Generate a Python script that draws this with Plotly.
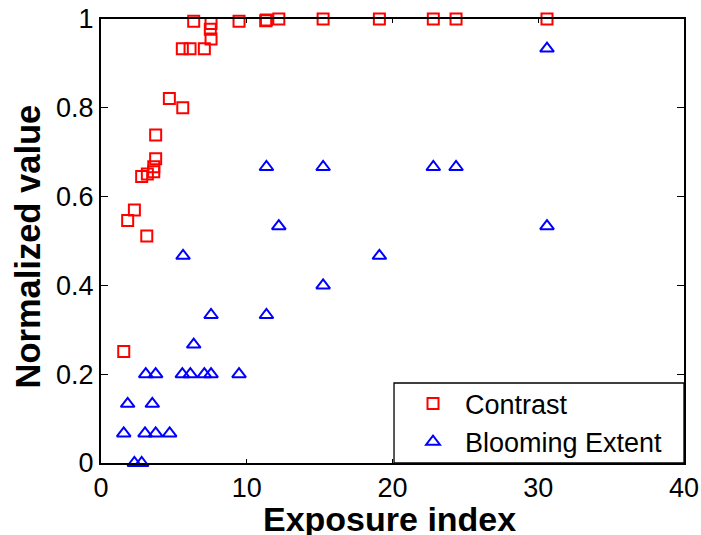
import plotly.graph_objects as go

# Contrast (red squares)
contrast_x = [1.56, 1.83, 2.29, 2.79, 3.14, 3.18, 3.62, 3.62, 3.75, 3.75,
              4.69, 5.58, 5.61, 6.11, 6.36, 7.09, 7.50, 7.55, 7.55, 9.47,
              11.30, 11.35, 12.2, 15.24, 19.1, 22.8, 24.36, 30.6]
contrast_y = [0.251, 0.546, 0.570, 0.645, 0.511, 0.651, 0.656, 0.667, 0.685, 0.739,
              0.821, 0.933, 0.800, 0.933, 0.995, 0.933, 0.977, 0.990, 0.955, 0.995,
              0.996, 0.998, 1.0, 1.0, 1.0, 1.0, 1.0, 1.0]

# Blooming extent (blue triangles)
blooming_x = [1.56, 1.83, 2.29, 2.79, 3.02, 3.07, 3.52, 3.75, 3.75, 4.71,
              5.58, 5.63, 6.13, 6.36, 7.09, 7.55, 7.55, 9.47, 11.35, 11.35,
              12.2, 15.24, 15.24, 19.1, 22.8, 24.36, 30.6, 30.6]
blooming_y = [0.0667, 0.1333, 0.0, 0.0, 0.0667, 0.2, 0.1333, 0.2, 0.0667, 0.0667,
              0.2, 0.4667, 0.2, 0.2667, 0.2, 0.2, 0.3333, 0.2, 0.3333, 0.6667,
              0.5333, 0.6667, 0.4, 0.4667, 0.6667, 0.6667, 0.9333, 0.5333]

x_ticks = [0, 10, 20, 30, 40]
y_ticks = [0, 0.2, 0.4, 0.6, 0.8, 1]
y_tick_labels = ["0", "0.2", "0.4", "0.6", "0.8", "1"]

FONT = "Liberation Sans, Arial, sans-serif"

fig = go.Figure()
fig.add_trace(go.Scatter(
    x=contrast_x, y=contrast_y, mode="markers", name="Contrast",
    marker=dict(symbol="square-open", size=11, color="#FF0000",
                line=dict(width=2, color="#FF0000")),
    cliponaxis=False,
))
fig.add_trace(go.Scatter(
    x=blooming_x, y=blooming_y, mode="markers", name="Blooming Extent",
    marker=dict(symbol="triangle-up-open", size=12, color="#0000FF",
                line=dict(width=2, color="#0000FF")),
    cliponaxis=False,
))

# legend frame
fig.add_shape(type="rect", xref="paper", yref="paper",
              x0=0.5026, x1=1.0, y0=0.0, y1=0.1802,
              line=dict(color="black", width=1.3), fillcolor="white",
              layer="above")

fig.add_annotation(text="<b>Exposure index</b>", xref="paper", yref="paper",
                   x=0.494, y=-0.125, xanchor="center", yanchor="middle",
                   showarrow=False, font=dict(family=FONT, size=34, color="black"))
fig.add_annotation(text="<b>Normalized value</b>", xref="paper", yref="paper",
                   x=-0.126, y=0.4865, xanchor="center", yanchor="middle",
                   textangle=-90,
                   showarrow=False, font=dict(family=FONT, size=34.5, color="black"))

fig.update_layout(
    width=701, height=535,
    margin=dict(l=101, r=17, t=19, b=72, autoexpand=False),
    paper_bgcolor="white", plot_bgcolor="white",
    font=dict(family=FONT, size=27, color="black"),
    showlegend=True,
    legend=dict(
        x=0.5146, y=-0.008, xanchor="left", yanchor="bottom",
        bgcolor="rgba(0,0,0,0)", borderwidth=0,
        font=dict(family=FONT, size=27, color="black"),
        itemwidth=54, tracegroupgap=0,
    ),
    xaxis=dict(
        range=[0, 40], tickvals=x_ticks, ticks="inside", ticklen=4,
        tickwidth=1, tickcolor="black", automargin=False,
        showline=True, linecolor="black", linewidth=2, mirror="ticks",
        showgrid=False, zeroline=False,
        tickfont=dict(family=FONT, size=27),
    ),
    yaxis=dict(
        range=[0, 1], tickvals=y_ticks, ticktext=y_tick_labels,
        ticks="inside", ticklen=7, tickwidth=1, tickcolor="black",
        automargin=False,
        showline=True, linecolor="black", linewidth=2, mirror="ticks",
        showgrid=False, zeroline=False,
        tickfont=dict(family=FONT, size=27),
    ),
)

fig.write_html("out.html", config={"displayModeBar": False},
               post_script="document.body.style.margin='0px';")
